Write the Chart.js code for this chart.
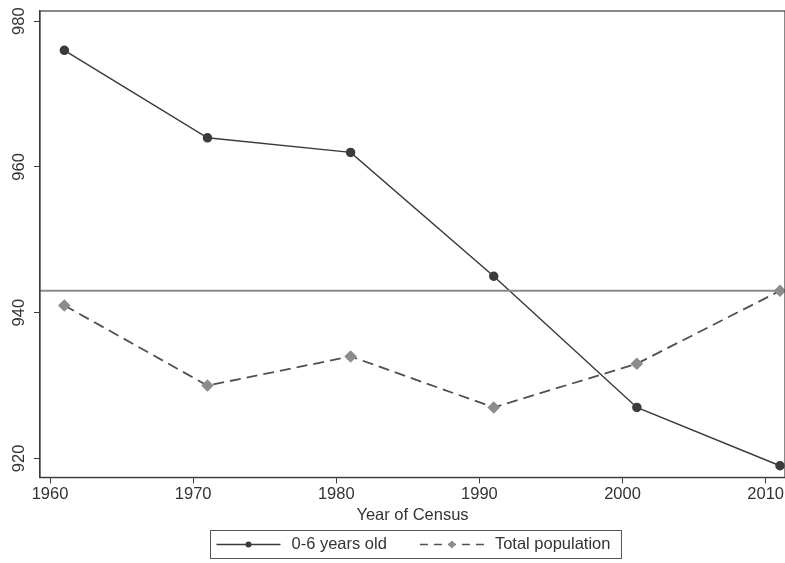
<!DOCTYPE html>
<html>
<head>
<meta charset="utf-8">
<script src="https://cdn.jsdelivr.net/npm/chart.js@4"></script>
<style>
  body { margin: 0; background: #fff; }
  #wrap { width: 785px; height: 563px; }
</style>
</head>
<body>
<div id="wrap"><canvas id="c" width="785" height="563"></canvas></div>
<script>
// census years and sex ratios (females per 1000 males)
const years = [1961, 1971, 1981, 1991, 2001, 2011];
const childRatio = [976, 964, 962, 945, 927, 919];
const totalRatio = [941, 930, 934, 927, 933, 943];
const refLevel = 943;
const xTicks = [1960, 1970, 1980, 1990, 2000, 2010];
const yTicks = [920, 940, 960, 980];
const seriesNames = ["0-6 years old", "Total population"];

const dark = "#3b3b3b";
const dashCol = "#505050";
const grey = "#8c8c8c";
const fontSize = 16.5;
const font = fontSize + "px 'Liberation Sans', Arial, sans-serif";

// line + marker, as in the legend keys
function drawKey(g, x, y, lineCol, markCol, dash, marker) {
  g.save();
  g.strokeStyle = lineCol;
  g.lineWidth = 1.3;
  g.setLineDash(dash);
  g.beginPath();
  g.moveTo(x, y);
  g.lineTo(x + 64, y);
  g.stroke();
  g.fillStyle = markCol;
  g.beginPath();
  const cx = x + 32;
  if (marker === "circle") {
    g.arc(cx, y, 3, 0, Math.PI * 2);
  } else {
    g.moveTo(cx, y - 4); g.lineTo(cx + 4, y); g.lineTo(cx, y + 4); g.lineTo(cx - 4, y);
    g.closePath();
  }
  g.fill();
  g.restore();
}

const framePlugin = {
  id: "frame",
  afterDraw(chart) {
    const ctx = chart.ctx;
    const a = chart.chartArea;
    ctx.save();
    // plot box
    ctx.strokeStyle = dark;
    ctx.lineWidth = 1.2;
    ctx.strokeRect(a.left, a.top, a.right - a.left, a.bottom - a.top);

    // vertical y tick labels
    const ys = chart.scales.y;
    ctx.font = font;
    ctx.fillStyle = "#333";
    ctx.textAlign = "center";
    ctx.textBaseline = "middle";
    for (const v of yTicks) {
      ctx.save();
      ctx.translate(19, ys.getPixelForValue(v));
      ctx.rotate(-Math.PI / 2);
      ctx.fillText(String(v), 0, 0);
      ctx.restore();
    }

    // legend box
    const w1 = ctx.measureText(seriesNames[0]).width;
    const w2 = ctx.measureText(seriesNames[1]).width;
    const total = 6 + 64 + 11 + w1 + 33 + 64 + 11 + w2 + 11;
    const left = Math.round((a.left + a.right) / 2 + 3 - total / 2) + 0.5;
    const top = 530.5, h = 28, mid = top + h / 2;
    ctx.strokeStyle = "#555";
    ctx.lineWidth = 1;
    ctx.strokeRect(left, top, total, h);
    let x = left + 6;
    drawKey(ctx, x, mid, dark, dark, [], "circle");
    x += 75;
    ctx.textAlign = "left";
    ctx.fillText(seriesNames[0], x, mid);
    x += w1 + 33;
    drawKey(ctx, x, mid, dashCol, grey, [8, 6], "diamond");
    x += 75;
    ctx.fillText(seriesNames[1], x, mid);
    ctx.restore();
  }
};

new Chart(document.getElementById("c"), {
  type: "line",
  data: {
    datasets: [
      {
        label: "ref",
        data: [{ x: 1959.3, y: refLevel }, { x: 2011.35, y: refLevel }],
        borderColor: "#8a8a8a",
        borderWidth: 2,
        pointRadius: 0
      },
      {
        label: seriesNames[1],
        data: years.map((y, i) => ({ x: y, y: totalRatio[i] })),
        borderColor: dashCol,
        backgroundColor: grey,
        pointBorderColor: grey,
        borderWidth: 1.8,
        borderDash: [11, 6],
        pointRadius: 5,
        pointStyle: "rectRot",
        tension: 0,
        clip: false
      },
      {
        label: seriesNames[0],
        data: years.map((y, i) => ({ x: y, y: childRatio[i] })),
        borderColor: dark,
        backgroundColor: dark,
        borderWidth: 1.5,
        pointRadius: 4,
        pointStyle: "circle",
        tension: 0,
        clip: false
      }
    ]
  },
  options: {
    responsive: false,
    animation: false,
    layout: { autoPadding: false, padding: { left: 34, right: 0, top: 11, bottom: 38 } },
    scales: {
      x: {
        type: "linear",
        min: 1959.3,
        max: 2011.35,
        afterBuildTicks: s => { s.ticks = xTicks.map(v => ({ value: v })); },
        afterFit: s => { s.paddingLeft = 0; s.paddingRight = 0; },
        grid: { drawOnChartArea: false, drawTicks: true, tickLength: 6, color: dark },
        border: { color: dark, width: 1.2 },
        ticks: { color: "#333", font: { family: "Liberation Sans", size: fontSize }, padding: 1, maxRotation: 0, callback: v => String(v) },
        title: { display: true, text: "Year of Census", color: "#333", font: { family: "Liberation Sans", size: fontSize }, padding: { top: 0, bottom: 0 } }
      },
      y: {
        min: 917.4,
        max: 981.4,
        afterBuildTicks: s => { s.ticks = yTicks.map(v => ({ value: v })); },
        grid: { drawOnChartArea: false, drawTicks: true, tickLength: 6, color: dark },
        border: { color: dark, width: 1.2 },
        ticks: { display: false }
      }
    },
    plugins: {
      tooltip: { enabled: false },
      legend: { display: false }
    }
  },
  plugins: [framePlugin]
});
</script>
</body>
</html>
